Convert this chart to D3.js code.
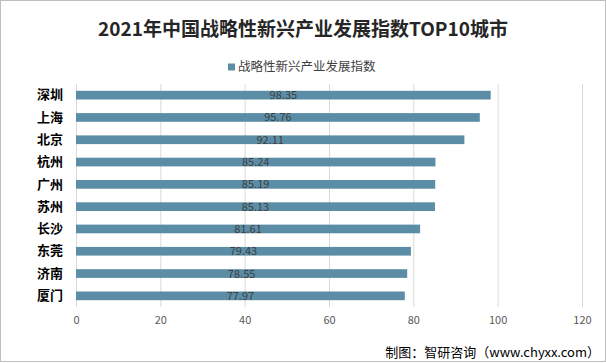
<!DOCTYPE html>
<html>
<head>
<meta charset="utf-8">
<script src="https://cdn.jsdelivr.net/npm/d3@7"></script>
<style>
  body { margin: 0; background: #fff; }
  svg { display: block; font-family: "Noto Sans CJK SC", sans-serif; }
</style>
</head>
<body>
<div id="viz"></div>
<script>
// 2021 strategic emerging industry index, top 10 cities

const cities = ["深圳", "上海", "北京", "杭州", "广州", "苏州", "长沙", "东莞", "济南", "厦门"];
const values = [98.35, 95.76, 92.11, 85.24, 85.19, 85.13, 81.61, 79.43, 78.55, 77.97];
const xTicks = [0, 20, 40, 60, 80, 100, 120];
const seriesName = "战略性新兴产业发展指数";
const title = "2021年中国战略性新兴产业发展指数TOP10城市";
const source = "制图：智研咨询（www.chyxx.com）";

function drawChart() {
    const dimensions = {
        width: 606,
        height: 363,
        margins: { top: 84, right: 24, bottom: 56, left: 76 }
    };
    dimensions.boundedWidth = dimensions.width - dimensions.margins.left - dimensions.margins.right;
    dimensions.boundedHeight = dimensions.height - dimensions.margins.top - dimensions.margins.bottom;

    const svg = d3.select('#viz').append('svg')
        .attr('width', dimensions.width)
        .attr('height', dimensions.height);

    // outer frame
    svg.append('rect')
        .attr('x', 0.5).attr('y', 0.5)
        .attr('width', dimensions.width - 1)
        .attr('height', dimensions.height - 2)
        .attr('fill', 'white')
        .attr('stroke', '#bfbfbf');

    const x = d3.scaleLinear()
        .domain([0, 120])
        .range([0, 506]);

    const y = d3.scaleBand()
        .domain(cities)
        .range([0, 223])
        .paddingInner(0.61)
        .paddingOuter(0.305);

    const bounds = svg.append('g')
        .attr('transform', `translate(${dimensions.margins.left}, ${dimensions.margins.top})`);

    // gridlines
    bounds.append('g')
        .selectAll('line')
        .data(xTicks)
        .enter().append('line')
            .attr('x1', d => x(d) + 0.5)
            .attr('x2', d => x(d) + 0.5)
            .attr('y1', 0)
            .attr('y2', 223)
            .attr('stroke', '#d9d9d9')
            .attr('stroke-width', 1);

    // bars
    bounds.append('g')
        .selectAll('rect')
        .data(values)
        .enter().append('rect')
            .attr('x', x(0))
            .attr('y', (d, i) => y(cities[i]))
            .attr('width', d => x(d) - x(0))
            .attr('height', y.bandwidth())
            .attr('fill', '#5b8ea6');

    // value labels, centred in bar
    bounds.append('g')
        .selectAll('text')
        .data(values)
        .enter().append('text')
            .attr('x', d => (x(0) + x(d)) / 2)
            .attr('y', (d, i) => y(cities[i]) + y.bandwidth() / 2)
            .attr('dy', '0.36em')
            .attr('text-anchor', 'middle')
            .attr('font-size', 11)
            .attr('fill', '#404040')
            .text(d => d.toFixed(2));

    // x axis
    const xAxis = d3.axisBottom(x).tickValues(xTicks).tickSize(0).tickPadding(9);
    const xg = bounds.append('g')
        .attr('transform', `translate(0, 223)`)
        .call(xAxis);
    xg.select('.domain').remove();
    xg.selectAll('text')
        .attr('font-size', 11)
        .attr('font-family', '"Noto Sans CJK SC", sans-serif')
        .attr('fill', '#595959');

    // y axis
    const yAxis = d3.axisLeft(y).tickSize(0).tickPadding(13);
    const yg = bounds.append('g').call(yAxis);
    yg.select('.domain').remove();
    yg.selectAll('text')
        .attr('font-size', 13)
        .attr('font-weight', 'bold')
        .attr('font-family', '"Noto Sans CJK SC", sans-serif')
        .attr('fill', '#000');

    // title
    svg.append('text')
        .attr('x', 303)
        .attr('y', 29)
        .attr('dy', '0.35em')
        .attr('text-anchor', 'middle')
        .attr('font-size', 19)
        .attr('font-weight', 'bold')
        .attr('fill', '#262626')
        .text(title);

    // legend
    const legend = svg.append('g').attr('transform', 'translate(228, 67)');
    legend.append('rect')
        .attr('x', 0).attr('y', -3.5)
        .attr('width', 7).attr('height', 7)
        .attr('fill', '#5b8ea6');
    legend.append('text')
        .attr('x', 10)
        .attr('dy', '0.35em')
        .attr('font-size', 12.5)
        .attr('fill', '#404040')
        .text(seriesName);

    // source
    svg.append('text')
        .attr('x', 600)
        .attr('y', 352)
        .attr('dy', '0.35em')
        .attr('text-anchor', 'end')
        .attr('font-size', 13)
        .attr('fill', '#000')
        .text(source);
}

drawChart();
</script>
</body>
</html>
